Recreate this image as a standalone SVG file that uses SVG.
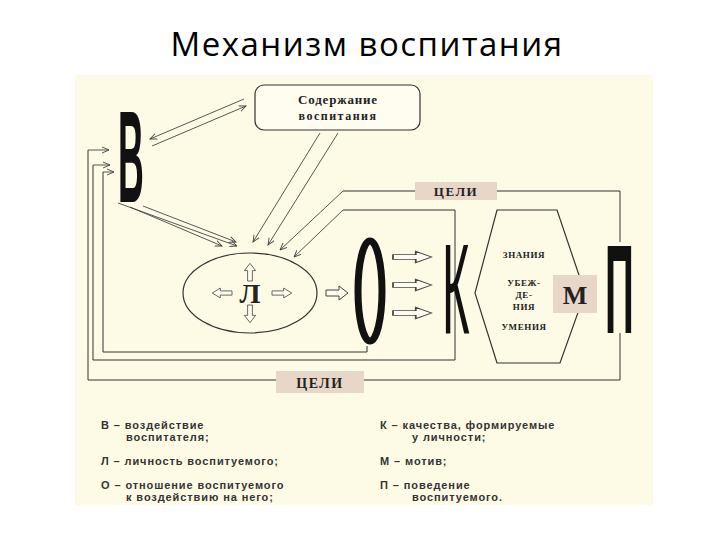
<svg xmlns="http://www.w3.org/2000/svg" xmlns:xlink="http://www.w3.org/1999/xlink" width="720" height="540" viewBox="0 0 720 540">
<style>
.ln{fill:none;stroke:#333;stroke-width:1}
.ar{fill:none;stroke:#444;stroke-width:0.9;marker-end:url(#ah)}
.big{font-family:"Liberation Sans",Arial,sans-serif;fill:#111}
.ser{font-family:"Liberation Serif","Times New Roman",serif;font-weight:bold;fill:#222}
.leg{font-family:"Liberation Sans",Arial,sans-serif;font-weight:bold;font-size:11px;fill:#333;letter-spacing:0.9px}
.blk{fill:#fefdf0;stroke:#444;stroke-width:1}
.tag{fill:#e8d6c8}
</style>
<defs>
<marker id="ah" markerWidth="8" markerHeight="8" refX="7" refY="4" orient="auto" markerUnits="userSpaceOnUse">
<path d="M0,1 L7,4 L0,7" fill="none" stroke="#444" stroke-width="0.9"/>
</marker>
<path id="blk" d="M0,-3 H13 V-7 L22,0 L13,7 V3 H0 Z"/>
</defs>
<rect width="720" height="540" fill="#fff"/>
<text x="367" y="56" text-anchor="middle" font-family="Open Sans,Liberation Sans,sans-serif" font-size="33" letter-spacing="1.5" fill="#000">Механизм воспитания</text>
<rect x="75" y="75" width="578" height="430" fill="#fdfbe6"/>

<g id="connectors">
<path class="ar" d="M152,146 L246,106"/>
<path class="ar" d="M244,99 L150,139"/>
<path class="ar" d="M320,133 L253,242"/>
<path class="ar" d="M338,133 L268,245"/>
<path class="ar" d="M118,203 L237,246"/>
<path class="ar" d="M130,207 L222,246"/>
<path class="ar" d="M143,206 L236,242"/>
<path class="ln" d="M415,191 H343"/>
<path class="ar" d="M343,191 L280,250"/>
<path class="ln" d="M497,191 H620 V242"/>
<path class="ln" d="M620,333 V380 H364"/>
<path class="ln" d="M276,380 H88 V150"/>
<path class="ar" d="M88,150 H109"/>
<path class="ln" d="M343,210 H455 V360 H93 V165"/>
<path class="ar" d="M343,210 L294,257"/>
<path class="ar" d="M93,165 H110"/>
<path class="ln" d="M367,346 V352 H103 V172"/>
<path class="ar" d="M103,172 H114"/>
<use xlink:href="#blk" class="blk" transform="translate(326,293)"/>
<use xlink:href="#blk" class="blk" transform="translate(393,257) scale(1.75,0.8)"/>
<use xlink:href="#blk" class="blk" transform="translate(393,285) scale(1.75,0.8)"/>
<use xlink:href="#blk" class="blk" transform="translate(393,313) scale(1.75,0.8)"/>
</g>

<g id="node-B"><text class="big" transform="translate(118,202) scale(0.6,1.6)" x="0" y="0" font-size="81" font-weight="bold" textLength="43" lengthAdjust="spacingAndGlyphs">В</text></g>

<g id="node-content">
<rect x="255" y="85" width="165" height="45" rx="9" fill="#fefdf0" stroke="#333" stroke-width="1.2"/>
<text class="ser" x="338" y="104" text-anchor="middle" font-size="13" font-weight="normal" letter-spacing="0.8">Содержание</text>
<text class="ser" x="338" y="120" text-anchor="middle" font-size="12" font-weight="normal" letter-spacing="1.5">воспитания</text>
</g>

<g id="node-L">
<ellipse cx="250" cy="293" rx="67" ry="40" fill="none" stroke="#333" stroke-width="1.2"/>
<text class="ser" x="250" y="303" text-anchor="middle" font-size="28">Л</text>
<use xlink:href="#blk" class="blk" transform="translate(250,281) rotate(-90) scale(0.8,0.8)"/>
<use xlink:href="#blk" class="blk" transform="translate(250,305) rotate(90) scale(0.8,0.8)"/>
<use xlink:href="#blk" class="blk" transform="translate(232,293) rotate(180) scale(0.9,0.7)"/>
<use xlink:href="#blk" class="blk" transform="translate(272,293) scale(0.9,0.7)"/>
</g>

<g id="node-O"><ellipse cx="370" cy="291" rx="12" ry="50" fill="none" stroke="#111" stroke-width="7"/></g>

<g id="node-K"><text class="big" transform="translate(442,333) scale(0.6,1.6)" x="0" y="0" font-size="80" textLength="46" lengthAdjust="spacingAndGlyphs">К</text></g>

<g id="node-hex">
<polygon points="497,210 557,210 585,293 560,363 497,363 475,293" fill="none" stroke="#333" stroke-width="1.2"/>
<text class="ser" x="524" y="258" text-anchor="middle" font-size="9" letter-spacing="0.6">ЗНАНИЯ</text>
<text class="ser" x="524" y="286" text-anchor="middle" font-size="9" letter-spacing="0.6">УБЕЖ-</text>
<text class="ser" x="524" y="298" text-anchor="middle" font-size="9" letter-spacing="0.6">ДЕ-</text>
<text class="ser" x="524" y="310" text-anchor="middle" font-size="9" letter-spacing="0.6">НИЯ</text>
<text class="ser" x="524" y="330" text-anchor="middle" font-size="9" letter-spacing="0.6">УМЕНИЯ</text>
</g>

<g id="node-M">
<rect x="553" y="275" width="44" height="38" class="tag"/>
<text class="ser" x="575" y="304" text-anchor="middle" font-size="26">М</text>
</g>

<g id="node-P"><text class="big" transform="translate(605,333) scale(0.6,1.6)" x="0" y="0" font-size="79" font-weight="bold" textLength="48" lengthAdjust="spacingAndGlyphs">П</text></g>

<g id="goal-top">
<rect x="415" y="182" width="82" height="18" class="tag"/>
<text class="ser" x="456" y="196" text-anchor="middle" font-size="13" letter-spacing="1.5">ЦЕЛИ</text>
</g>
<g id="goal-bottom">
<rect x="276" y="371" width="88" height="22" class="tag"/>
<text class="ser" x="320" y="388" text-anchor="middle" font-size="14" letter-spacing="1.5">ЦЕЛИ</text>
</g>

<g id="legend">
<text class="leg" x="101" y="429">В – воздействие</text>
<text class="leg" x="126" y="441">воспитателя;</text>
<text class="leg" x="101" y="465">Л – личность воспитуемого;</text>
<text class="leg" x="101" y="489">О – отношение воспитуемого</text>
<text class="leg" x="126" y="501">к воздействию на него;</text>
<text class="leg" x="380" y="429">К – качества, формируемые</text>
<text class="leg" x="412" y="441">у личности;</text>
<text class="leg" x="380" y="465">М – мотив;</text>
<text class="leg" x="380" y="489">П – поведение</text>
<text class="leg" x="412" y="501">воспитуемого.</text>
</g>
</svg>
